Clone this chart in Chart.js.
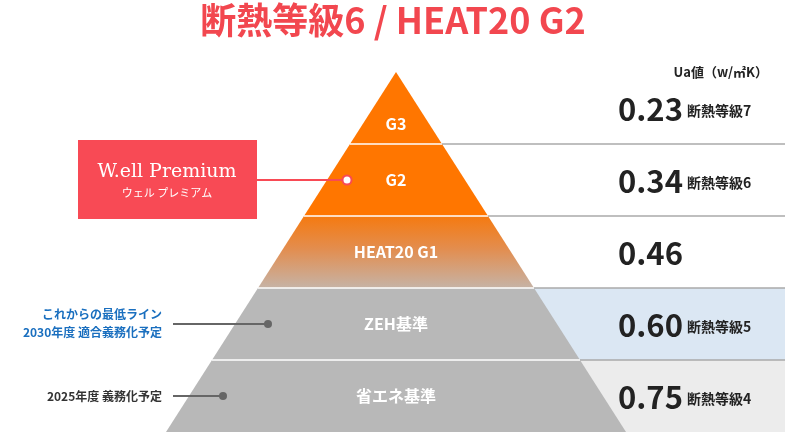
<!DOCTYPE html>
<html lang="ja">
<head>
<meta charset="utf-8">
<script src="https://cdn.jsdelivr.net/npm/chart.js@4"></script>
<style>
  html, body { margin: 0; padding: 0; background: #fff; }
  #wrap { width: 785px; height: 432px; }
</style>
</head>
<body>
<div id="wrap"><canvas id="c"></canvas></div>
<script>
// levels, top to bottom
const levels = ['G3', 'G2', 'HEAT20 G1', 'ZEH基準', '省エネ基準'];
const uaValues = ['0.23', '0.34', '0.46', '0.60', '0.75'];
const grades = ['断熱等級7', '断熱等級6', '', '断熱等級5', '断熱等級4'];
const bandColors = [null, null, null, '#dbe7f3', '#ececec'];

const FONT = '"Noto Sans CJK JP", "Noto Sans", sans-serif';
const APEX_X = 396;      // x scale units are pixels
const SLOPE = 46;        // half-width per level unit

const pyramid = {
  id: 'pyramid',
  beforeDatasetsDraw(chart) {
    const ctx = chart.ctx;
    const xs = chart.scales.x, ys = chart.scales.y;
    const n = levels.length;
    const edge = (lv, side) => xs.getPixelForValue(APEX_X + side * (n - lv) * SLOPE);
    ctx.save();

    // right-side bands and separator lines
    levels.forEach((name, i) => {
      const lvTop = n - i, lvBot = n - i - 1;
      const yT = ys.getPixelForValue(lvTop), yB = ys.getPixelForValue(lvBot);
      if (bandColors[i]) {
        ctx.fillStyle = bandColors[i];
        ctx.fillRect(xs.getPixelForValue(APEX_X), yT, chart.width, yB - yT);
      }
      if (i > 0) {
        ctx.strokeStyle = '#aaaaaa';
        ctx.lineWidth = 1.5;
        ctx.beginPath();
        ctx.moveTo(xs.getPixelForValue(APEX_X), yT);
        ctx.lineTo(chart.width, yT);
        ctx.stroke();
      }
    });

    // pyramid layers
    levels.forEach((name, i) => {
      const lvTop = n - i, lvBot = n - i - 1;
      const yT = ys.getPixelForValue(lvTop), yB = ys.getPixelForValue(lvBot);
      let fill;
      if (i < 2) fill = '#ff7600';
      else if (i === 2) {
        fill = ctx.createLinearGradient(0, yT, 0, yB);
        fill.addColorStop(0, '#f57a10');
        fill.addColorStop(0.45, '#e38d4e');
        fill.addColorStop(1, '#c6b3a6');
      } else fill = '#b8b8b8';
      ctx.fillStyle = fill;
      ctx.beginPath();
      ctx.moveTo(edge(lvTop, -1), yT);
      ctx.lineTo(edge(lvTop, 1), yT);
      ctx.lineTo(edge(lvBot, 1), yB);
      ctx.lineTo(edge(lvBot, -1), yB);
      ctx.closePath();
      ctx.fill();
      if (i > 0) {
        ctx.strokeStyle = '#ffffff';
        ctx.lineWidth = 1.5;
        ctx.beginPath();
        ctx.moveTo(edge(lvTop, -1), yT);
        ctx.lineTo(edge(lvTop, 1), yT);
        ctx.stroke();
      }
      // layer label
      ctx.fillStyle = '#ffffff';
      ctx.font = 'bold 16px ' + FONT;
      ctx.textAlign = 'center';
      ctx.textBaseline = 'middle';
      const yMid = i === 0 ? yT + (yB - yT) * 0.72 : (yT + yB) / 2;
      ctx.fillText(name, xs.getPixelForValue(APEX_X), yMid);

      // Ua value and grade
      const yv = (yT + yB) / 2;
      ctx.fillStyle = '#222222';
      ctx.textAlign = 'left';
      ctx.font = 'bold 31px ' + FONT;
      const vx = 618;
      ctx.fillText(uaValues[i], vx, yv + 1);
      const w = ctx.measureText(uaValues[i]).width;
      if (grades[i]) {
        ctx.font = 'bold 14px ' + FONT;
        ctx.fillText(grades[i], vx + w + 4, yv + 3);
      }
    });

    // header
    ctx.fillStyle = '#222222';
    ctx.font = 'bold 13px ' + FONT;
    ctx.textAlign = 'right';
    ctx.fillText('Ua値（w/㎡K）', 768, 72);

    // W.ell Premium callout
    const gy = (ys.getPixelForValue(4) + ys.getPixelForValue(3)) / 2;
    ctx.fillStyle = '#f84a55';
    ctx.fillRect(78, 140, 179, 79);
    ctx.strokeStyle = '#f84a55';
    ctx.lineWidth = 2;
    ctx.beginPath(); ctx.moveTo(257, gy); ctx.lineTo(343, gy); ctx.stroke();
    ctx.fillStyle = '#ffffff';
    ctx.beginPath(); ctx.arc(347, gy, 4.5, 0, Math.PI * 2); ctx.fill(); ctx.stroke();
    ctx.textAlign = 'center';
    ctx.font = '19px "DejaVu Serif", "Liberation Serif", serif';
    ctx.fillText('W.ell Premium', 167, 172);
    ctx.font = '11px "Noto Sans CJK JP", sans-serif';
    ctx.fillText('ウェル プレミアム', 167, 193);

    // ZEH callout
    const zy = (ys.getPixelForValue(2) + ys.getPixelForValue(1)) / 2;
    ctx.textAlign = 'right';
    ctx.fillStyle = '#1a6fbf';
    ctx.font = 'bold 12px ' + FONT;
    ctx.fillText('これからの最低ライン', 162, zy - 10);
    ctx.fillText('2030年度 適合義務化予定', 162, zy + 8);
    ctx.strokeStyle = '#666666';
    ctx.fillStyle = '#666666';
    ctx.lineWidth = 2;
    ctx.beginPath(); ctx.moveTo(173, zy); ctx.lineTo(268, zy); ctx.stroke();
    ctx.beginPath(); ctx.arc(268, zy, 4, 0, Math.PI * 2); ctx.fill();

    // 2025 callout
    const sy = (ys.getPixelForValue(1) + ys.getPixelForValue(0)) / 2;
    ctx.fillStyle = '#333333';
    ctx.fillText('2025年度 義務化予定', 162, sy);
    ctx.fillStyle = '#666666';
    ctx.beginPath(); ctx.moveTo(173, sy); ctx.lineTo(223, sy); ctx.stroke();
    ctx.beginPath(); ctx.arc(223, sy, 4, 0, Math.PI * 2); ctx.fill();

    ctx.restore();
  }
};

new Chart(document.getElementById('c'), {
  type: 'scatter',
  data: { datasets: [{ data: [] }] },
  options: {
    responsive: true,
    maintainAspectRatio: false,
    animation: false,
    layout: { padding: 0 },
    scales: {
      x: { type: 'linear', min: 0, max: 785, display: false },
      y: { type: 'linear', min: 0, max: 6, display: false }
    },
    plugins: {
      legend: { display: false },
      tooltip: { enabled: false },
      title: { display: false }
    }
  },
  plugins: [pyramid, {
    id: 'heading',
    afterDraw(chart) {
      const ctx = chart.ctx;
      ctx.save();
      ctx.fillStyle = '#f2474f';
      ctx.font = 'bold 36px ' + FONT;
      ctx.textAlign = 'center';
      ctx.textBaseline = 'middle';
      ctx.fillText('断熱等級6 / HEAT20 G2', 393, 20);
      ctx.restore();
    }
  }]
});
</script>
</body>
</html>
